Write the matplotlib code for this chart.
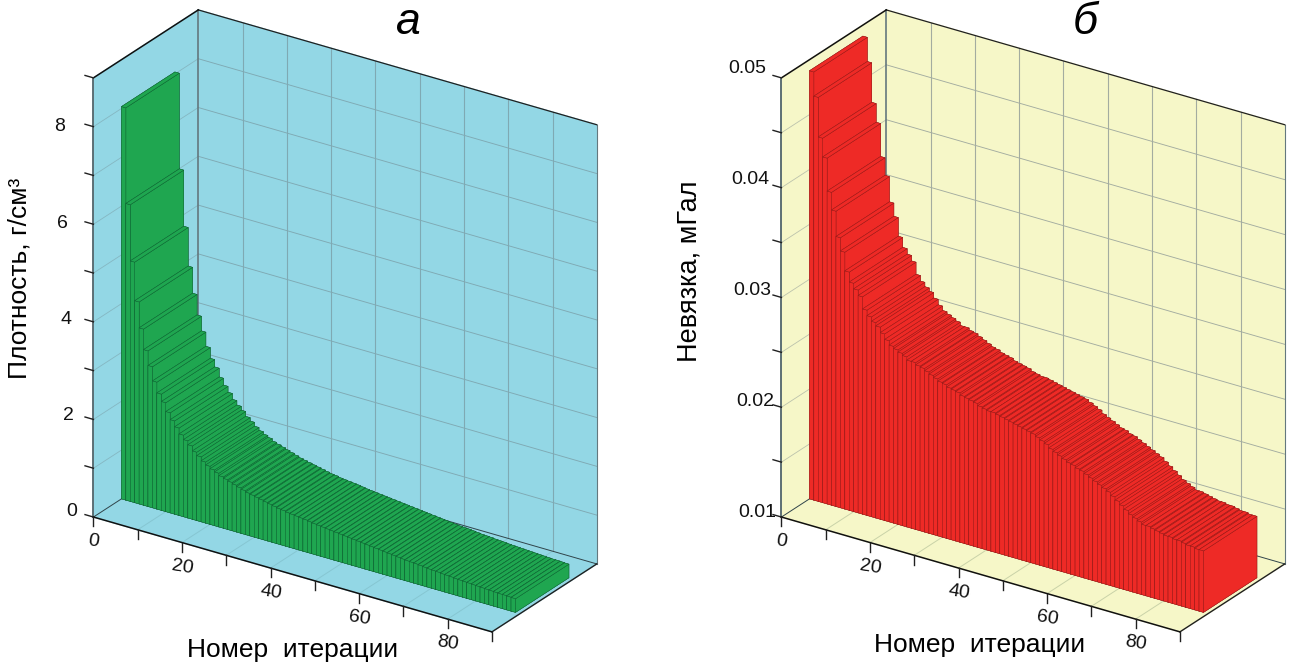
import matplotlib
matplotlib.use('Agg')
import numpy as np
import matplotlib.pyplot as plt
from mpl_toolkits.mplot3d import proj3d

plt.rcParams['font.family'] = ['Liberation Sans', 'DejaVu Sans']

density = [8.04, 6.08, 4.93, 4.14, 3.61, 3.19, 2.89, 2.60, 2.38, 2.23,
           2.05, 1.91, 1.79, 1.67, 1.58, 1.50, 1.40, 1.33, 1.25, 1.19,
           1.14, 1.10, 1.05, 1.02, 0.99, 0.96, 0.93, 0.90, 0.87, 0.85,
           0.83, 0.81, 0.79, 0.77, 0.75, 0.73, 0.72, 0.70, 0.69, 0.68,
           0.67, 0.66, 0.645, 0.63, 0.62, 0.61, 0.60, 0.59, 0.58, 0.57,
           0.56, 0.55, 0.54, 0.53, 0.52, 0.51, 0.50, 0.49, 0.48, 0.47,
           0.46, 0.45, 0.44, 0.43, 0.42, 0.415, 0.41, 0.40, 0.39, 0.38,
           0.375, 0.37, 0.36, 0.355, 0.35, 0.34, 0.335, 0.33, 0.325, 0.32,
           0.315, 0.31, 0.305, 0.30, 0.295, 0.29, 0.29, 0.285, 0.28]

misfit = [.0490, .0468, .0432, .0415, .0385, .0369, .0346, .0334, .0317, .0308,
          .0303, .0298, .0287, .0282, .0278, .0275, .0270, .0265, .0261, .0259,
          .0257, .0255, .0252, .0252, .0250, .0249, .0247, .0245, .0243, .0241,
          .0240, .0238, .0237, .0236, .0234, .0233, .0232, .0231, .0229, .0228,
          .0227, .0227, .0226, .0225, .0224, .0223, .0222, .0221, .0220, .0219,
          .0218, .0216, .0214, .0212, .0209, .0207, .0205, .0203, .0201, .0200,
          .0198, .0197, .0195, .0193, .0191, .0189, .0187, .0185, .0182, .0179,
          .0176, .0173, .0170, .0168, .0166, .0164, .0164, .0163, .0162, .0161,
          .0160, .0160, .0159, .0159, .0158, .0157, .0157, .0156, .0156]

x_ticks = [0, 10, 20, 30, 40, 50, 60, 70, 80, 90]
x_labels = [0, 20, 40, 60, 80]
density_ticks = [0, 1, 2, 3, 4, 5, 6, 7, 8, 9]
density_labels = [0, 2, 4, 6, 8]
misfit_ticks = [.01, .015, .02, .025, .03, .035, .04, .045, .05]
misfit_labels = [.01, .02, .03, .04, .05]
misfit_text = ['0.01', '0.02', '0.03', '0.04', '0.05']


def draw_panel(left_px, values, zlim, z_ticks, z_lab_pos, z_lab_txt,
               wall, grid_back, grid_floor, face, edge, lab_dx, lab_dy):
    fig_w, fig_h = fig.get_size_inches() * fig.dpi
    # 600 px axes with zoom, so that the axes stays inside the figure
    ax = fig.add_axes([left_px / fig_w, 40 / fig_h, 600 / fig_w, 600 / fig_h],
                      projection='3d', computed_zorder=False, proj_type='ortho')
    ax.patch.set_alpha(0)
    ax.set_box_aspect((479, 189, 487), zoom=688 / 600)
    ax.view_init(elev=25.6, azim=-56.3)
    ax.set_xlim(0, 90)
    ax.set_ylim(0, 1)
    ax.set_zlim(*zlim)
    ax.set_xticks([])
    ax.set_yticks([])
    ax.set_zticks([])
    ax.grid(False)
    zmin, zmax = zlim
    zr = zmax - zmin
    for a in (ax.xaxis, ax.yaxis, ax.zaxis):
        a.set_pane_color(wall)
        a.pane.set_edgecolor(wall)
        a.line.set_color((0, 0, 0, 0))

    def line(xs, ys, zs, color, lw, alpha=1):
        ax.plot(xs, ys, zs, color=color, lw=lw, alpha=alpha, zorder=1, clip_on=False)

    # label at a 3d point, but as plain 2d text on the projected axes
    def label(x, y, z, s, rotation=0):
        x2, y2, _ = proj3d.proj_transform(x, y, z, ax.get_proj())
        ax.text2D(x2, y2, s, transform=ax.transData, fontsize=14, rotation=rotation,
                  ha='center', va='center', color='#111111')

    # grid on the walls and the floor
    for t in x_ticks[1:-1]:
        line([t, t], [1, 1], [zmin, zmax], grid_back, 0.8)
        line([t, t], [0, 1], [zmin, zmin], grid_floor, 0.7)
    for t in z_ticks[1:-1]:
        line([0, 90], [1, 1], [t, t], grid_back, 0.65)
        line([0, 0], [0, 1], [t, t], grid_back, 0.6, alpha=0.7)

    # box edges
    line([0, 90], [1, 1], [zmin, zmin], '#30444a', 0.7)
    line([0, 0], [0, 1], [zmin, zmin], '#30444a', 0.7)
    line([0, 0], [1, 1], [zmin, zmax], '#64787e', 1.2)
    line([90, 90], [1, 1], [zmin, zmax], '#64787e', 0.8)
    line([0, 90], [1, 1], [zmax, zmax], '#202020', 0.9)
    line([0, 0], [0, 1], [zmax, zmax], '#101010', 1.1)
    line([90, 90], [0, 1], [zmin, zmin], '#202020', 1.0)
    line([0, 0], [0, 0], [zmin, zmax], '#50646a', 1.3)
    line([0, 90], [0, 0], [zmin, zmin], '#101010', 1.1)

    # ticks
    for t in x_ticks:
        line([t, t], [0, 0], [zmin, zmin - 0.021 * zr], '#202020', 1.0)
    for t in z_ticks:
        line([0, -1.9], [0, 0], [t, t], '#202020', 1.0)

    # tick labels
    for t in x_labels:
        label(t, 0, zmin - 0.056 * zr, str(t), rotation=-9)
    for t, s in zip(z_lab_pos, z_lab_txt):
        f = (t - zmin) / zr
        label(-(lab_dx[0] + lab_dx[1] * f) / 4.43, 0,
              t + (lab_dy[0] + lab_dy[1] * f) / 439 * zr, s)

    # bars: low iterations first, later ones cover them
    for i, v in enumerate(values):
        ax.bar3d(i, 0.267, zmin, 1, 0.51, v - zmin, color=face, edgecolor=edge,
                 linewidth=0.3, shade=False, zorder=10 + i)

    ax.set_xlim(0, 90)
    ax.set_ylim(0, 1)
    ax.set_zlim(*zlim)
    return ax


fig = plt.figure(figsize=(12.93, 6.69), dpi=100, facecolor='white')

draw_panel(37, density, (0, 9), density_ticks, density_labels,
           [str(t) for t in density_labels], '#93d7e5', '#7fa9b3', '#86c6d2',
           '#1fa650', '#0d5c30', (22, 13), (-1.3, -9.5))
draw_panel(725, misfit, (.01, .05), misfit_ticks, misfit_labels, misfit_text,
           '#f6f7c8', '#a3aca0', '#c9d2a8', '#ee2a26', '#8c1a18', (24, 10), (-2, 2))

fig.text(408 / 1293, 1 - 22 / 669, 'а', fontsize=32, style='italic', ha='center', va='center')
fig.text(1085 / 1293, 1 - 22 / 669, 'б', fontsize=32, style='italic', ha='center', va='center')
fig.text(293 / 1293, 1 - 650 / 669, 'Номер  итерации', fontsize=19, ha='center', va='center')
fig.text(980 / 1293, 1 - 645 / 669, 'Номер  итерации', fontsize=19, ha='center', va='center')
fig.text(20 / 1293, 1 - 278 / 669, 'Плотность, г/см³', fontsize=19, rotation=90, ha='center', va='center')
fig.text(690 / 1293, 1 - 271 / 669, 'Невязка, мГал', fontsize=19.5, rotation=90, ha='center', va='center')

fig.savefig('out.png', dpi=100)
